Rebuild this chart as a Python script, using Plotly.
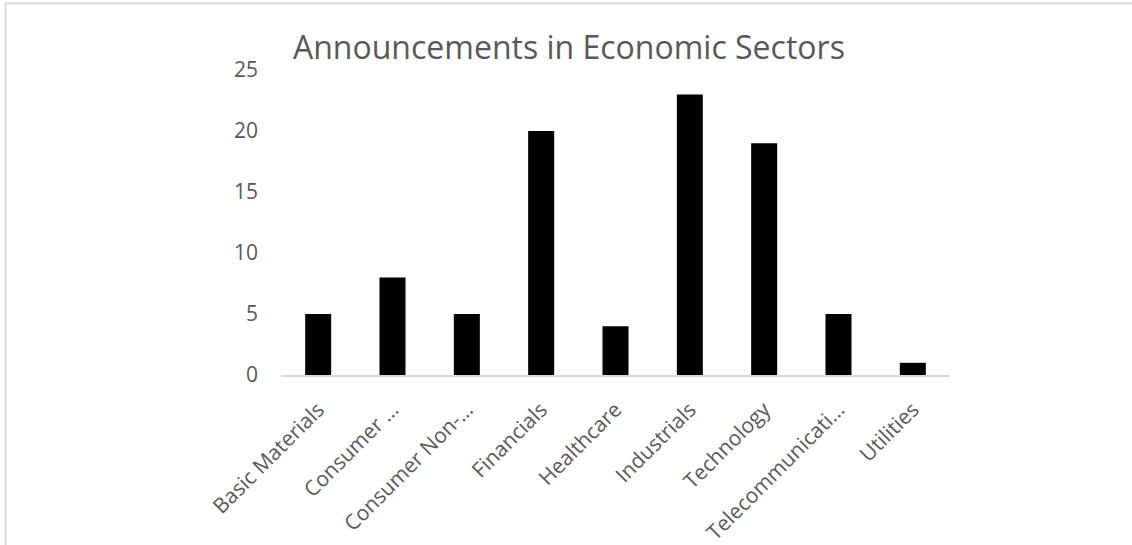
import plotly.graph_objects as go

categories = ["Basic Materials", "Consumer …", "Consumer Non-…", "Financials", "Healthcare",
              "Industrials", "Technology", "Telecommunicati…", "Utilities"]
values = [5, 8, 5, 20, 4, 23, 19, 5, 1]
y_ticks = [0, 5, 10, 15, 20, 25]
title_text = "Announcements in Economic Sectors"

W, H = 1132, 545
L, R, T, B = 281, 182, 70, 170
pw = W - L - R
ph = H - T - B
base = H - B  # pixel row of the x axis


def px_y(p):
    return (base - p) / ph


def px_x(p):
    return (p - L) / pw


fig = go.Figure(go.Bar(x=categories, y=values, marker=dict(color="#000000", line=dict(width=0))))

fig.update_layout(
    width=W, height=H,
    margin=dict(l=L, r=R, t=T, b=B, pad=0, autoexpand=False),
    paper_bgcolor="white", plot_bgcolor="white",
    bargap=0.65,
    showlegend=False,
    font=dict(family="Open Sans", color="#595959"),
    xaxis=dict(showgrid=False, showline=True, linecolor="#d9d9d9", linewidth=2, automargin=False,
               tickangle=-45, tickfont=dict(size=21, color="#595959"), ticks="", zeroline=False),
    yaxis=dict(range=[0, 25], tickvals=y_ticks, showgrid=False, showline=False, zeroline=False,
               automargin=False,
               tickfont=dict(size=21, color="#595959"), ticks="", ticklen=0),
    annotations=[dict(text=title_text, xref="paper", yref="paper",
                      x=px_x(291), y=px_y(46), xanchor="left", yanchor="middle",
                      showarrow=False, font=dict(size=32, color="#595959", family="Open Sans"))],
    shapes=[dict(type="rect", xref="paper", yref="paper",
                 x0=px_x(5.5), x1=px_x(W + 10),
                 y0=px_y(H + 10), y1=px_y(3.5),
                 line=dict(color="#d9d9d9", width=2), fillcolor="rgba(0,0,0,0)", layer="below")],
)
fig.update_yaxes(ticklabelstandoff=22)
fig.update_xaxes(ticklabelstandoff=12)
fig.write_html("out.html")
